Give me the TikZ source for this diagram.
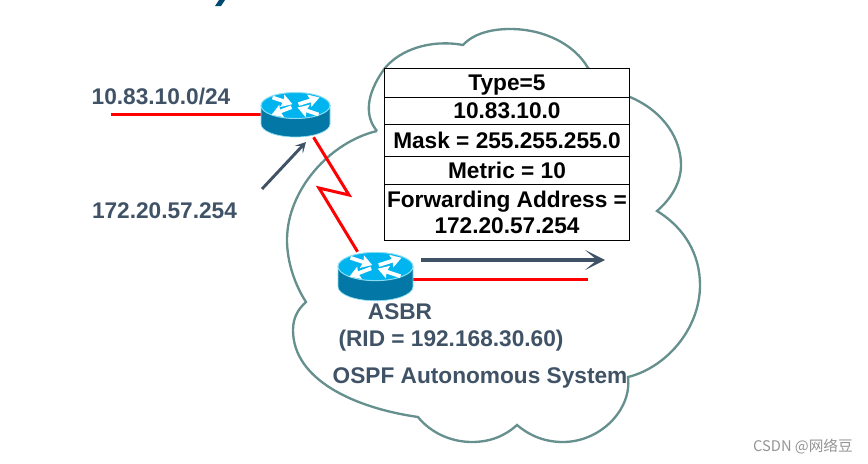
\documentclass[tikz,border=0pt]{standalone}
\usepackage{fontspec}
\setmainfont{Liberation Sans}
\newfontfamily\cjk{Noto Sans CJK SC}
\usetikzlibrary{arrows.meta}
\definecolor{cloudgreen}{HTML}{65908E}
\definecolor{labelgray}{HTML}{3F5266}
\definecolor{rtrtop}{HTML}{00B4F0}
\definecolor{rtrside}{HTML}{0377A5}
\definecolor{rtrrim}{HTML}{8ADDF2}
\definecolor{titleblue}{HTML}{004A70}
\tikzset{
  lbl/.style={text=labelgray,font=\bfseries\fontsize{17}{20}\selectfont,inner sep=0pt},
  row/.style={draw=black,line width=.75pt,fill=white,minimum width=183.75pt,inner sep=0pt,
    align=center,font=\bfseries\fontsize{17}{20}\selectfont},
  cloudline/.style={draw=cloudgreen,line width=1.75pt,line join=miter},
  redline/.style={draw=red,line width=2.25pt},
  flowarrow/.style={draw=labelgray,line width=3.4pt,-{Stealth[length=15pt,width=15pt,inset=9pt]}},
  hintarrow/.style={draw=labelgray,line width=2.2pt,-{Stealth[length=8pt,width=8.5pt,inset=4pt]}},
  rtrbox/.style={inner sep=0pt},
  rtrarrow/.style={draw=white,line width=2.8pt,-{Stealth[length=8pt,width=9.5pt,inset=1pt]}},
  pics/router/.style={code={
    \fill[rtrside,draw=rtrrim,line width=.5pt] (-34.5,0) -- (-34.5,18.5) arc[start angle=180,end angle=360,x radius=34.5,y radius=-13] -- (34.5,0) -- cycle;
    \fill[rtrtop,draw=rtrrim,line width=.75pt] (0,0) ellipse[x radius=34.5,y radius=13];
    \draw[rtrarrow] (-23,-8) -- (-3,-1.3);
    \draw[rtrarrow] (3,-1.3) -- (24,-8);
    \draw[rtrarrow] (-4,1.7) -- (-24,9.3);
    \draw[rtrarrow] (23,9) -- (2,2);
  }}
}
\begin{document}
\begin{tikzpicture}[x=.75pt,y=-.75pt]
  \useasboundingbox (0,0) rectangle (868,464);
  % cut off title
  \fill[titleblue] (215,6) -- (221,6) -- (225,0) -- (219,0) -- cycle;
  % cloud
  \draw[cloudline] (377,131) .. controls (365,117) and (365,95) .. (385,68)
    .. controls (400,50) and (430,39) .. (463,45)
    .. controls (475,32) and (495,29) .. (510,29)
    .. controls (545,29) and (575,45) .. (588,68)
    -- (630,97)
    .. controls (665,112) and (681,140) .. (681,165)
    .. controls (681,182) and (672,198) .. (657,211)
    .. controls (685,228) and (700,255) .. (700,285)
    .. controls (700,330) and (665,368) .. (628,377)
    .. controls (632,410) and (600,442) .. (563,442)
    .. controls (545,442) and (530,436) .. (517,425)
    .. controls (505,436) and (490,442) .. (472,442)
    .. controls (450,442) and (430,432) .. (418,417)
    .. controls (355,408) and (293,380) .. (293,330)
    .. controls (293,318) and (298,309) .. (306,302)
    .. controls (295,285) and (287,262) .. (287,240)
    .. controls (287,190) and (330,142) .. (377,131);
  % LSA table
  \node[row,minimum height=21.75pt,text depth=0pt] (rowtype) at (507,82.5) {Type=5};
  \node[row,minimum height=20.25pt] (rowid) at (507,110.5) {10.83.10.0};
  \node[row,minimum height=24pt] (rowmask) at (507,140) {Mask = 255.255.255.0};
  \node[row,minimum height=21pt] (rowmetric) at (507,170) {Metric = 10};
  \node[row,minimum height=42pt] (rowfwd) at (507,212.5) {Forwarding Address =\\172.20.57.254};
  % routers
  \node[rtrbox,minimum width=51.75pt,minimum height=33pt] (rtA) at (295.5,115) {};
  \node[rtrbox,minimum width=56.25pt,minimum height=35.25pt] (rtB) at (375.5,275.5) {};
  \coordinate (extnet) at (111,114);
  \coordinate (zigA) at (349,195);
  \coordinate (zigB) at (319,188);
  \coordinate (redend) at (588,279);
  \coordinate (hinttail) at (262,189);
  \coordinate (hinttip) at (306,142);
  \coordinate (flowtail) at (421,260);
  \coordinate (flowtip) at (605,260);
  \draw[redline] (extnet) -- (extnet -| rtA.west);
  \draw[redline,line join=miter] (rtA.-51) -- (zigA) -- (zigB) -- (rtB.127);
  \draw[redline] (rtB.east |- redend) -- (redend);
  \pic at (295.5,105.5) {router};
  \pic[scale=1.087] at (375.5,266.5) {router};
  \draw[hintarrow] (hinttail) -- (hinttip);
  \draw[flowarrow] (flowtail) -- (flowtip);
  % labels
  \node[lbl] (netlbl) at (161,97) {10.83.10.0/24};
  \node[lbl] (fwdlbl) at (164.5,211) {172.20.57.254};
  \node[lbl] (asbrlbl) at (400,312) {ASBR};
  \node[lbl] (ridlbl) at (451,341) {(RID = 192.168.30.60)};
  \node[lbl] (aslbl) at (480,377.5) {OSPF Autonomous System};
  \node[text=black!42,font=\cjk\fontsize{11}{13}\selectfont,inner sep=0pt] (csdn) at (803,447) {CSDN @网络豆};
\end{tikzpicture}
\end{document}
